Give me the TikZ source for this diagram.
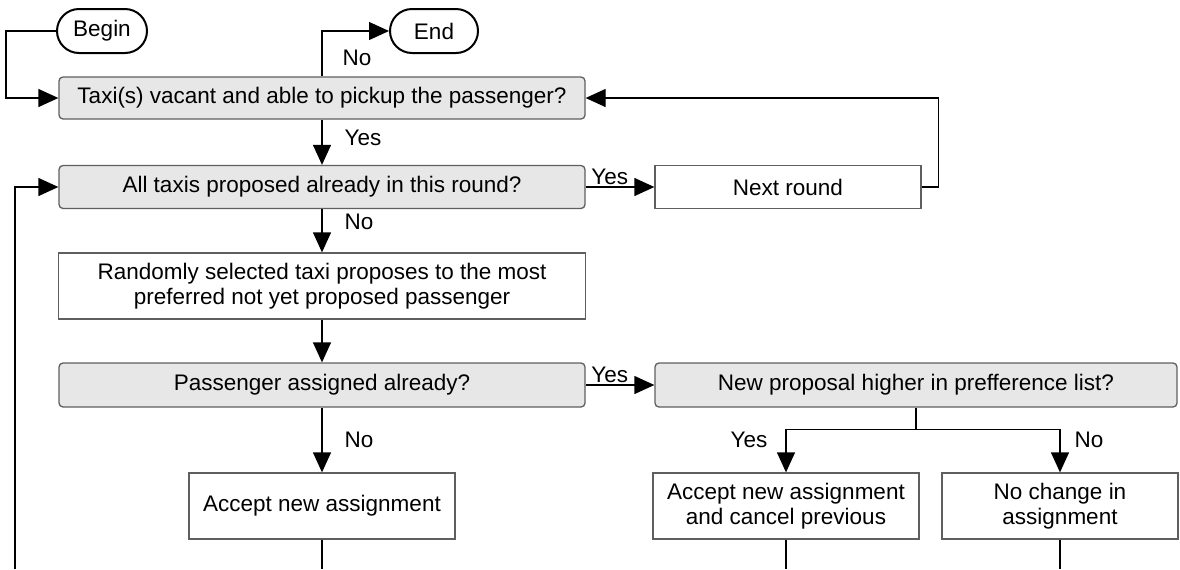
\documentclass[tikz,border=0pt]{standalone}
\usepackage{fontspec}
\setmainfont{Liberation Sans}
\usetikzlibrary{positioning,arrows.meta}
\definecolor{boxline}{RGB}{95,95,95}
\definecolor{askfill}{RGB}{231,231,231}
\begin{document}
\begin{tikzpicture}[x=0.5pt, y=-0.5pt,
		font=\fontsize{11.25}{12.5}\selectfont,
		line width=0.65pt,
		terminal/.style={draw=black, line width=1pt, rounded corners=11pt, minimum height=22pt, inner sep=0pt},
		ask/.style={draw=boxline, fill=askfill, rounded corners=2pt, inner sep=0pt},
		act/.style={draw=boxline, align=center, inner sep=0pt},
		flow/.style={-{Triangle[length=10pt,width=9pt]}},
		tag/.style={inner sep=1pt}]
			\useasboundingbox (0,0) rectangle (1180,569);
			\node (begin) [terminal, minimum width=45pt] at (102,31) {Begin};
			\node (end) [terminal, minimum width=44pt] at (434,31) {End};
			\node (vacant) [ask, minimum width=263pt, minimum height=21pt] at (322,98) {Taxi(s) vacant and able to pickup the passenger?};
			\node (proposed) [ask, minimum width=263pt, minimum height=21.5pt] at (322,187) {All taxis proposed already in this round?};
			\node (round) [act, minimum width=133pt, minimum height=21.5pt] at (788,187) {Next round};
			\node (propose) [act, minimum width=263.5pt, minimum height=33pt] at (322,286) {Randomly selected taxi proposes to the most\\preferred not yet proposed passenger};
			\node (assigned) [ask, minimum width=263pt, minimum height=22pt] at (322,385) {Passenger assigned already?};
			\node (higher) [ask, minimum width=261pt, minimum height=22pt] at (916,385) {New proposal higher in prefference list?};
			\node (accept) [act, minimum width=133pt, minimum height=33pt] at (322,506) {Accept new assignment};
			\node (replace) [act, minimum width=133pt, minimum height=33pt] at (786,506) {Accept new assignment\\and cancel previous};
			\node (keep) [act, minimum width=118pt, minimum height=33pt] at (1060,506) {No change in\\assignment};
			\coordinate (loop) at (15,569);
			\coordinate (acceptout) at (322,569);
			\coordinate (replaceout) at (786,569);
			\coordinate (keepout) at (1060,569);
			\draw [flow] (begin.west) -- ++(-50,0) |- (vacant.west);
			\draw [flow] (vacant.north) |- node [tag, pos=.2, right=9pt] {No} (end.west);
			\draw [flow] (vacant.south) -- node [tag, pos=.4, right=10pt] {Yes} (proposed.north);
			\draw [flow] (proposed.east) -- node [tag, pos=.35, above=0pt] {Yes} (round.west);
			\draw [flow] (round.east) -- ++(17,0) |- (vacant.east);
			\draw [flow] (proposed.south) -- node [tag, pos=.3, right=10pt] {No} (propose.north);
			\draw [flow] (propose.south) -- (assigned.north);
			\draw [flow] (assigned.east) -- node [tag, pos=.35, above=0pt] {Yes} (higher.west);
			\draw [flow] (assigned.south) -- node [tag, pos=.5, right=10pt] {No} (accept.north);
			\draw (higher.south) -- ++(0,22) coordinate (fork);
			\draw [flow] (fork) -| node [tag, pos=.62, left=8pt] {Yes} (replace.north);
			\draw [flow] (fork) -| node [tag, pos=.62, right=6pt] {No} (keep.north);
			\draw [flow] (loop) |- (proposed.west);
			\draw (accept.south) -- (acceptout);
			\draw (replace.south) -- (replaceout);
			\draw (keep.south) -- (keepout);
		\end{tikzpicture}
\end{document}
